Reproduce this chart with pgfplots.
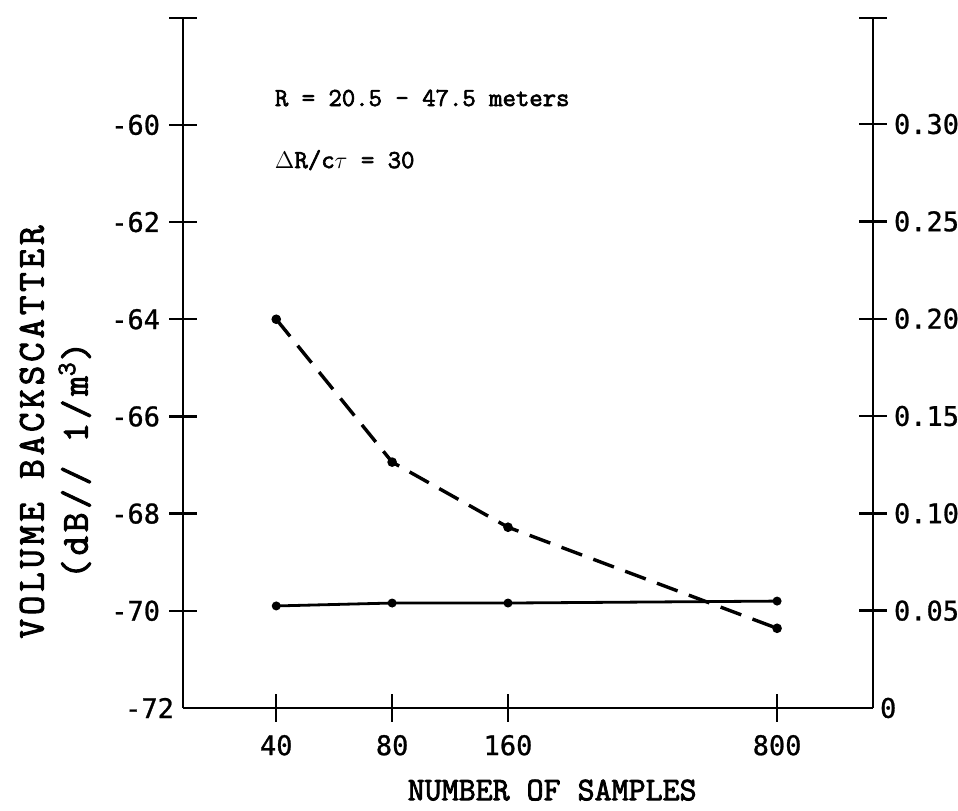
\documentclass[border=0pt]{standalone}
\usepackage{fontspec}
\setmainfont{Liberation Sans}
\newfontfamily\tw[FakeBold=2.5]{Latin Modern Mono}
\newfontfamily\twy[FakeBold=2.5,LetterSpace=10]{Latin Modern Mono}
\newfontfamily\tickfont[FakeBold=1]{DejaVu Sans Mono}
\usepackage{pgfplots}
\pgfplotsset{compat=1.18}

\begin{document}
\begin{tikzpicture}
% left axis: dB values
\begin{axis}[
  name=main,
  scale only axis, width=345pt, height=345pt,
  xmode=log, xmin=22.9, xmax=1420,
  ymin=-72, ymax=-57.8,
  axis x line*=bottom, axis y line*=left,
  axis line style={line width=1.4pt},
  every tick/.style={black, line width=1.2pt},
  tick align=center, major tick length=14pt,
  xtick={40,80,160,800}, xticklabels={40,80,160,800},
  xminorticks=false,
  ytick={-70,-68,-66,-64,-62,-60,-57.8},
  yticklabels={-70,-68,-66,-64,-62,-60,{}},
  extra y ticks={-72}, extra y tick labels={-72},
  extra y tick style={major tick length=0pt},
  ticklabel style={font=\tickfont\fontsize{13.5}{15}\selectfont},
  /pgf/number format/assume math mode=true,
  yticklabel style={xshift=-1pt},
  xticklabel style={yshift=-3pt},
  clip=false,
]
\addplot[black, line width=1.7pt, dash pattern=on 11pt off 6pt, mark=*, mark size=1.5pt, mark options={solid}]
  coordinates {(40,-64.0) (80,-66.94) (160,-68.28) (800,-70.36)};
\addplot[black, line width=1.4pt, mark=*, mark size=1.5pt]
  coordinates {(40,-69.9) (80,-69.84) (160,-69.84) (800,-69.8)};
\node[anchor=west, font=\tw\fontsize{13}{15}\selectfont] at (rel axis cs:0.123,0.884) {R = 20.5 - 47.5 meters};
\node[anchor=west, font=\tw\fontsize{13}{15}\selectfont] at (rel axis cs:0.123,0.794) {$\Delta$R/c$\tau$ = 30};
\node[font=\tw\fontsize{16.5}{18}\selectfont] at (rel axis cs:0.535,-0.119) {NUMBER OF SAMPLES};
\node[rotate=90, font=\twy\fontsize{19}{21}\selectfont] at (rel axis cs:-0.219,0.40) {VOLUME BACKSCATTER};
\node[rotate=90, font=\twy\fontsize{19}{21}\selectfont] at (rel axis cs:-0.157,0.359) {(dB// 1/m\textsuperscript{3})};
\end{axis}
% right axis
\begin{axis}[
  scale only axis, width=345pt, height=345pt,
  xmode=log, xmin=22.9, xmax=1420,
  ymin=0, ymax=0.3545,
  axis x line=none, axis y line*=right,
  axis line style={line width=1.4pt},
  every tick/.style={black, line width=1.2pt},
  tick align=center, major tick length=14pt,
  ytick={0.05,0.10,0.15,0.20,0.25,0.30,0.3545},
  yticklabels={0.05,0.10,0.15,0.20,0.25,0.30,{}},
  extra y ticks={0}, extra y tick labels={0},
  extra y tick style={major tick length=0pt},
  ticklabel style={font=\tickfont\fontsize{13.5}{15}\selectfont},
  /pgf/number format/assume math mode=true,
]
\end{axis}
\pgfresetboundingbox
\path[use as bounding box] ([shift={(-91.5pt,-51.5pt)}]main.south west) rectangle ([shift={(42.5pt,9pt)}]main.north east);
\end{tikzpicture}
\end{document}
